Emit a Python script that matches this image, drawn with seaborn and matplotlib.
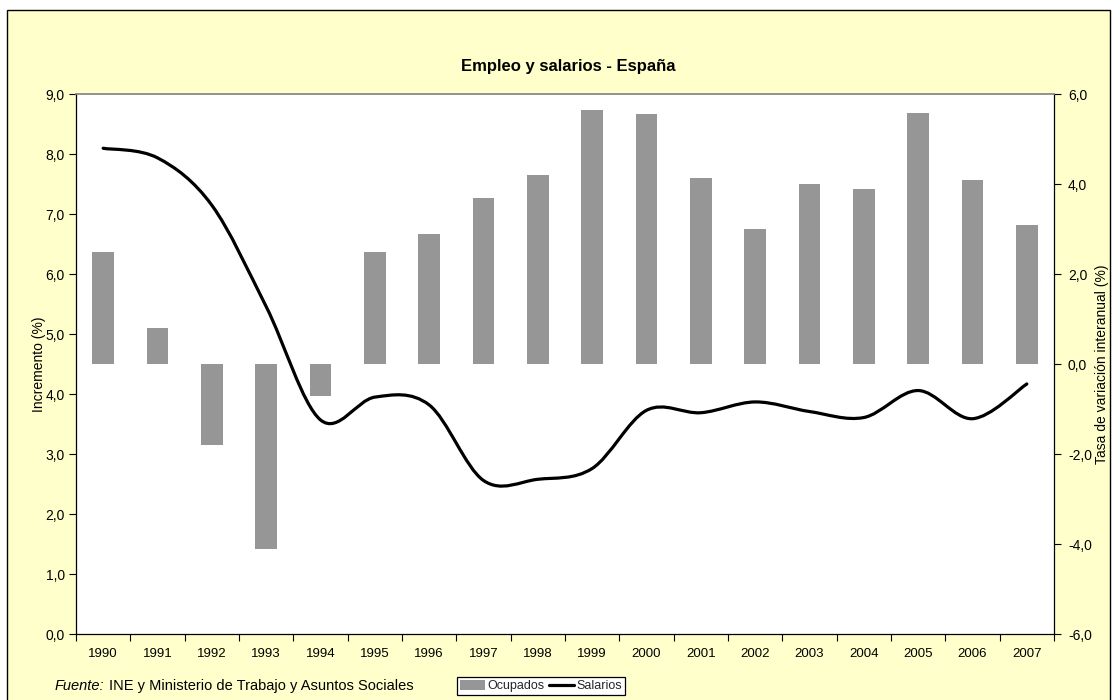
import numpy as np
import matplotlib
matplotlib.use("Agg")
import matplotlib.pyplot as plt
import seaborn as sns
import pandas as pd
from matplotlib.path import Path
from matplotlib.patches import PathPatch, Rectangle, Patch
from matplotlib.lines import Line2D
from matplotlib.ticker import FixedLocator, FuncFormatter

# ---- data ----
years = [str(y) for y in range(1990, 2008)]
ocupados = [2.5, 0.8, -1.8, -4.1, -0.7, 2.5, 2.9, 3.7, 4.2, 5.64, 5.56, 4.13,
            3.0, 4.0, 3.9, 5.58, 4.09, 3.09]
salarios = [8.1, 7.94, 7.15, 5.46, 3.57, 3.95, 3.82, 2.56, 2.58, 2.76, 3.73,
            3.69, 3.87, 3.71, 3.61, 4.06, 3.59, 4.17]
left_ticks = [0, 1, 2, 3, 4, 5, 6, 7, 8, 9]
right_ticks = [-6, -4, -2, 0, 2, 4, 6]
title = "Empleo y salarios - España"
left_label = "Incremento (%)"
right_label = "Tasa de variación interanual (%)"

sns.set_theme(style="white")
plt.rcParams['font.family'] = ['Liberation Sans', 'DejaVu Sans']

W, H = 1115, 700
fig = plt.figure(figsize=(W / 100, H / 100), dpi=100)
fig.patch.set_facecolor("white")
fig.add_artist(Rectangle((7 / W, -0.05), (1110 - 7) / W, 1 - 10 / H + 0.05,
                         transform=fig.transFigure, facecolor="#FFFFCC",
                         edgecolor="black", lw=1.0, zorder=-10))

x0, x1 = 76, 1054
y_top, y_bot = 94.3, 634
rect = [x0 / W, 1 - y_bot / H, (x1 - x0) / W, (y_bot - y_top) / H]
ax = fig.add_axes(rect)
ax2 = ax.twinx()

# bars on right axis
df = pd.DataFrame({"year": years, "ocupados": ocupados})
sns.barplot(data=df, x="year", y="ocupados", ax=ax2, color="#969696",
            width=0.4, saturation=1, edgecolor="none")
ax2.patch.set_visible(True)
ax2.set_facecolor("white")
ax2.set_zorder(1)
ax.set_zorder(2)
ax.patch.set_visible(False)

# smoothed line (Excel-style Bezier) on left axis
pts = np.column_stack([np.arange(len(salarios)), salarios]).astype(float)
n = len(pts)
verts = [tuple(pts[0])]
codes = [Path.MOVETO]
for i in range(n - 1):
    p0 = pts[max(i - 1, 0)]
    p1 = pts[i]
    p2 = pts[i + 1]
    p3 = pts[min(i + 2, n - 1)]
    c1 = p1 + (p2 - p0) / 6.0
    c2 = p2 - (p3 - p1) / 6.0
    verts += [tuple(c1), tuple(c2), tuple(p2)]
    codes += [Path.CURVE4] * 3
ax.add_patch(PathPatch(Path(verts, codes), facecolor="none", edgecolor="black",
                       lw=2.3, capstyle="round", joinstyle="round"))

for a in (ax, ax2):
    a.set_xlim(-0.5, n - 0.5)
ax.set_ylim(0, 9)
ax2.set_ylim(-6, 6)

fmt = FuncFormatter(lambda v, p: f"{v:.1f}".replace(".", ","))
ax.yaxis.set_major_locator(FixedLocator(left_ticks))
ax.yaxis.set_major_formatter(fmt)
ax2.yaxis.set_major_locator(FixedLocator(right_ticks))
ax2.yaxis.set_major_formatter(fmt)

ax.set_xticks(range(n))
ax.set_xticklabels(years)
ax.set_xticks(np.arange(-0.5, n, 1.0), minor=True)
ax.tick_params(axis="x", which="major", length=0, pad=10, labelsize=9.5,
               labelcolor="black")
ax.tick_params(axis="x", which="minor", length=5, width=0.8, color="black",
               direction="out", bottom=True)
ax.tick_params(axis="y", length=5, width=0.8, color="black", direction="out",
               left=True, pad=3, labelsize=10, labelcolor="black")
ax2.tick_params(axis="y", length=5, width=0.8, color="black", direction="out",
                right=True, pad=5, labelsize=10, labelcolor="black")
ax2.set_xlabel("")
ax2.set_ylabel("")
ax2.tick_params(axis="x", which="both", length=0, labelbottom=False)
ax.set_xlabel("")
ax.set_ylabel("")

for s in ("left", "bottom"):
    ax.spines[s].set_color("black")
    ax.spines[s].set_linewidth(0.9)
ax.spines["top"].set_color("#808080")
ax.spines["top"].set_linewidth(1.2)
ax.spines["right"].set_visible(False)
for s in ("left", "bottom", "top"):
    ax2.spines[s].set_visible(False)
ax2.spines["right"].set_visible(True)
ax2.spines["right"].set_color("black")
ax2.spines["right"].set_linewidth(0.9)

# texts
fig.text(568 / W, 1 - 66 / H, title, ha="center", va="center",
         fontsize=12, fontweight="bold", color="black")
fig.text(39 / W, 1 - 364 / H, left_label, rotation=90, ha="center",
         va="center", fontsize=10, color="black")
fig.text(1102 / W, 1 - 364 / H, right_label, rotation=90, ha="center",
         va="center", fontsize=10, color="black")

t1 = fig.text(55 / W, 1 - 686 / H, "Fuente:", ha="left", va="center",
              fontsize=10.5, style="italic", color="black")
fig.canvas.draw()
bb = t1.get_window_extent(renderer=fig.canvas.get_renderer())
fig.text((bb.x1 + 4) / W, 1 - 686 / H,
         "INE y Ministerio de Trabajo y Asuntos Sociales", ha="left",
         va="center", fontsize=10.5, color="black")

handles = [Patch(facecolor="#969696", edgecolor="none"),
           Line2D([0], [0], color="black", lw=2.3)]
leg = fig.legend(handles, ["Ocupados", "Salarios"], ncol=2,
                 loc="upper left", bbox_to_anchor=(457 / W, 1 - 677 / H),
                 bbox_transform=fig.transFigure, frameon=True, fancybox=False,
                 fontsize=9, handlelength=2.0, handleheight=0.8,
                 handletextpad=0.2, columnspacing=0.3, borderpad=0.25,
                 borderaxespad=0)
leg.get_frame().set_edgecolor("black")
leg.get_frame().set_linewidth(0.9)
leg.get_frame().set_facecolor("white")
leg.get_frame().set_alpha(1)

fig.savefig("out.png", dpi=100, facecolor=fig.get_facecolor())
